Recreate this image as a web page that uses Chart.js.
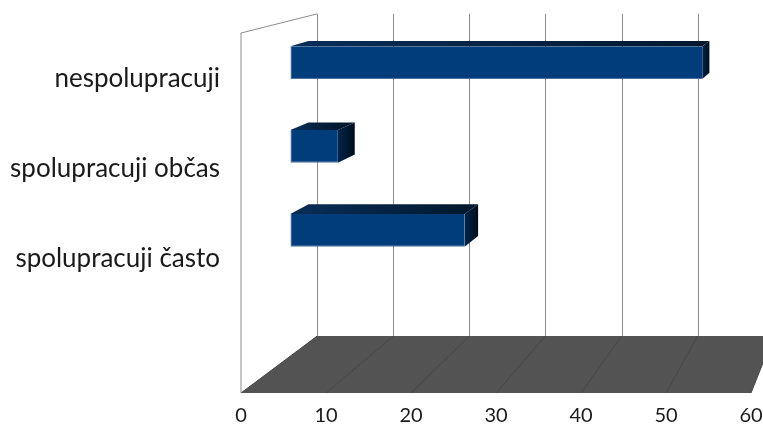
<!DOCTYPE html>
<html lang="cs">
  <head>
    <meta charset="utf-8" />
    <title>Spolupráce</title>
    <script src="https://cdn.jsdelivr.net/npm/chart.js@4.4.0/dist/chart.umd.min.js"></script>
    <style>
      html,
      body {
        margin: 0;
        padding: 0;
        background: #fff;
      }
      canvas {
        display: block;
      }
    </style>
  </head>
  <body>
    <canvas id="chart" width="763" height="425"></canvas>

    <script>
      // --- data -------------------------------------------------------------
      const categories = ["nespolupracuji", "spolupracuji občas", "spolupracuji často"];
      const values = [52, 6, 22];
      const xTicks = [0, 10, 20, 30, 40, 50, 60];

      // --- 3D look: depths are scale factors toward the vanishing point -------
      const K_WALL = 0.895; // back wall
      const K_FRONT = 0.932; // front face of the bars
      const K_BACK = 0.907; // back face of the bars

      function vanish(a) {
        return {
          x: a.right + 0.423 * (a.right - a.left),
          y: a.top - 0.506 * (a.bottom - a.top),
        };
      }

      function quad(ctx, pts, fill, stroke) {
        ctx.beginPath();
        ctx.moveTo(pts[0][0], pts[0][1]);
        for (let i = 1; i < pts.length; i++) ctx.lineTo(pts[i][0], pts[i][1]);
        ctx.closePath();
        if (fill) {
          ctx.fillStyle = fill;
          ctx.fill();
        }
        if (stroke) {
          ctx.strokeStyle = stroke;
          ctx.lineWidth = 1;
          ctx.stroke();
        }
      }

      const scene3d = {
        id: "scene3d",
        beforeDatasetsDraw(chart) {
          const { ctx, chartArea: a, scales } = chart;
          const xs = scales.x;
          const vp = vanish(a);
          const P = (px, py, k) => [vp.x + (px - vp.x) * k, vp.y + (py - vp.y) * k];

          ctx.save();

          // floor
          quad(ctx, [P(a.left, a.bottom, 1), P(a.right, a.bottom, 1), P(a.right, a.bottom, K_WALL), P(a.left, a.bottom, K_WALL)], "#535353");
          ctx.strokeStyle = "#464646";
          ctx.lineWidth = 1;
          xs.ticks.forEach((t) => {
            const px = xs.getPixelForValue(t.value);
            const p0 = P(px, a.bottom, 1);
            const p1 = P(px, a.bottom, K_WALL);
            ctx.beginPath();
            ctx.moveTo(p0[0], p0[1]);
            ctx.lineTo(p1[0], p1[1]);
            ctx.stroke();
          });

          // left wall
          const lw = [P(a.left, a.bottom, 1), P(a.left, a.top, 1), P(a.left, a.top, K_WALL), P(a.left, a.bottom, K_WALL)];
          ctx.beginPath();
          ctx.moveTo(lw[0][0], lw[0][1]);
          ctx.lineTo(lw[1][0], lw[1][1]);
          ctx.lineTo(lw[2][0], lw[2][1]);
          ctx.strokeStyle = "#8c8c8c";
          ctx.stroke();

          // back wall grid
          ctx.strokeStyle = "#8c8c8c";
          xs.ticks.forEach((t) => {
            const px = xs.getPixelForValue(t.value);
            const p0 = P(px, a.top, K_WALL);
            const p1 = P(px, a.bottom, K_WALL);
            ctx.beginPath();
            ctx.moveTo(Math.round(p0[0]) + 0.5, p0[1]);
            ctx.lineTo(Math.round(p1[0]) + 0.5, p1[1]);
            ctx.stroke();
          });

          // bar tops and sides
          chart.getDatasetMeta(0).data.forEach((bar) => {
            const { x, y, base, height } = bar.getProps(["x", "y", "base", "height"], true);
            const top = y - height / 2;
            const bottom = y + height / 2;

            const tf = [P(base, top, K_FRONT), P(x, top, K_FRONT), P(x, top, K_BACK), P(base, top, K_BACK)];
            const gTop = ctx.createLinearGradient(tf[0][0], 0, tf[1][0], 0);
            gTop.addColorStop(0, "#0a2e58");
            gTop.addColorStop(1, "#02182f");
            quad(ctx, tf, gTop);

            const sf = [P(x, top, K_FRONT), P(x, top, K_BACK), P(x, bottom, K_BACK), P(x, bottom, K_FRONT)];
            const gSide = ctx.createLinearGradient(sf[0][0], 0, sf[1][0], 0);
            gSide.addColorStop(0, "#00254b");
            gSide.addColorStop(1, "#000d1c");
            quad(ctx, sf, gSide);
          });

          ctx.restore();

          // front faces are drawn by Chart.js, pushed back to bar depth
          ctx.save();
          ctx.translate(vp.x, vp.y);
          ctx.scale(K_FRONT, K_FRONT);
          ctx.translate(-vp.x, -vp.y);
        },
        afterDatasetsDraw(chart) {
          chart.ctx.restore();
        },
      };

      new Chart(document.getElementById("chart"), {
        type: "bar",
        data: {
          datasets: [
            {
              data: values.map((v, i) => ({ x: v, y: i })),
              backgroundColor: "#003d7a",
              borderColor: "#4f719c",
              borderWidth: { left: 1, bottom: 1, top: 0, right: 0 },
              borderSkipped: false,
              categoryPercentage: 1,
              barPercentage: 0.39,
            },
          ],
        },
        options: {
          indexAxis: "y",
          responsive: false,
          animation: false,
          layout: { padding: { top: 33, right: 12, left: 0, bottom: 0 } },
          plugins: { legend: { display: false }, tooltip: { enabled: false } },
          scales: {
            x: {
              type: "linear",
              min: xTicks[0],
              max: xTicks[xTicks.length - 1],
              grid: { display: false, drawTicks: false },
              border: { display: false },
              afterBuildTicks: (s) => {
                s.ticks = xTicks.map((v) => ({ value: v }));
              },
              afterFit: (s) => {
                s.height = 32;
                s.paddingLeft = 0;
                s.paddingRight = 0;
              },
              ticks: {
                color: "#1a1a1a",
                padding: 11,
                maxRotation: 0,
                font: { family: "Lato", size: 20 },
              },
            },
            y: {
              type: "linear",
              offset: false,
              min: -0.5,
              max: categories.length + 0.5,
              reverse: true,
              grid: { display: false, drawTicks: false },
              border: { display: false },
              afterBuildTicks: (s) => {
                s.ticks = categories.map((c, i) => ({ value: i }));
              },
              afterFit: (s) => {
                s.width = 241;
                s.paddingTop = 0;
                s.paddingBottom = 0;
              },
              ticks: {
                color: "#1a1a1a",
                padding: 21,
                labelOffset: 1,
                font: { family: "Lato", size: 26 },
                callback: (v) => categories[v],
              },
            },
          },
        },
        plugins: [scene3d],
      });
    </script>
  </body>
</html>
